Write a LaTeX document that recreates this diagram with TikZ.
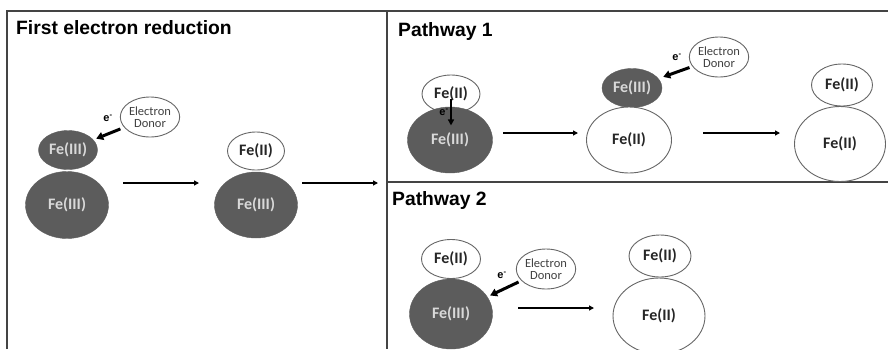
\documentclass[tikz,border=0pt]{standalone}
\usepackage{fontspec}
\setmainfont{Carlito}
\newfontfamily\headfont{Liberation Sans}
\usetikzlibrary{arrows.meta, shapes.geometric}
\definecolor{ironfill}{HTML}{5C5C5C}
\definecolor{ironline}{HTML}{666666}
\definecolor{frameline}{HTML}{444444}
\tikzset{
  fethree/.style = {ellipse, fill = ironfill, draw = ironfill, text = black!15, inner sep = 0pt, font = \bfseries\fontsize{16}{16}\selectfont},
  fetwo/.style = {ellipse, draw = ironline, line width = 0.9pt, fill = white, text = black!85, inner sep = 0pt, font = \bfseries\fontsize{16}{16}\selectfont},
  donor/.style = {ellipse, draw = ironline, line width = 0.9pt, fill = white, text = black!75, align = center, inner sep = 0pt, minimum width = 58pt, minimum height = 40pt, font = \fontsize{12.5}{11.5}\selectfont},
  smallion/.style = {minimum width = 59pt, minimum height = 39pt},
  bigion/.style = {minimum width = 83pt, minimum height = 67pt},
  rxn/.style = {-{Triangle[length = 5pt, width = 5pt]}, line width = 1.6pt},
  earrow/.style = {-{Triangle[length = 7pt, width = 8pt]}, line width = 3pt},
  elabel/.style = {font = \headfont\bfseries\fontsize{11}{10}\selectfont, inner sep = 0pt},
  heading/.style = {anchor = base west, inner sep = 0pt, font = \headfont\bfseries\fontsize{19.3}{20}\selectfont},
  frame/.style = {draw = frameline, line width = 2pt}
}
\begin{document}
\begin{tikzpicture}[x = 1pt, y = -1pt]
\useasboundingbox (0,0) rectangle (888,349);
\coordinate (tl) at (7,11);
\coordinate (bl) at (7,349);
\coordinate (tm) at (387,11);
\coordinate (bm) at (387,349);
\coordinate (tr) at (888,11);
\coordinate (mm) at (387,182);
\coordinate (mr) at (888,182);
\draw[frame] (bl) -- (tl) -- (tr);
\draw[frame] (tm) -- (bm);
\draw[frame] (mm) -- (mr);
\node[heading] (title0) at (16,34) {First electron reduction};
\node[heading] (title1) at (398,36) {Pathway 1};
\node[heading] (title2) at (392,205) {Pathway 2};
\node[fethree, smallion] (a1top) at (68,150) {Fe(III)};
\node[fethree, bigion] (a1bot) at (67,205) {Fe(III)};
\node[donor] (a1don) at (150,117) {Electron\\Donor};
\node[elabel] (a1e) at (108,118) {e\textsuperscript{-}};
\draw[earrow, shorten <= 4pt, shorten >= 3pt] (a1don) -- (a1top);
\node[fetwo, smallion, minimum width = 57pt, minimum height = 38pt] (a2top) at (256,151) {Fe(II)};
\node[fethree, bigion, minimum height = 66pt] (a2bot) at (256,205) {Fe(III)};
\coordinate (ar1s) at (123,183);
\coordinate (ar1e) at (199,183);
\coordinate (ar2s) at (302,183);
\coordinate (ar2e) at (378,183);
\draw[rxn] (ar1s) -- (ar1e);
\draw[rxn] (ar2s) -- (ar2e);
\node[fetwo, smallion, minimum width = 58pt, minimum height = 38pt, text depth = 3pt] (b1top) at (451,94) {Fe(II)};
\node[fethree, bigion, minimum width = 85pt, minimum height = 66pt] (b1bot) at (450,140) {Fe(III)};
\draw[earrow, line width = 2.2pt, -{Triangle[length = 6pt, width = 6pt]}] ([yshift = -5pt]b1top.center) -- ([yshift = -12pt]b1top.south);
\node[elabel] (b1e) at (444,112) {e\textsuperscript{-}};
\node[fethree, smallion, minimum width = 60pt, minimum height = 39pt] (b2top) at (632,88) {Fe(III)};
\node[fetwo, bigion, minimum width = 85pt, minimum height = 66pt] (b2bot) at (629,140) {Fe(II)};
\node[donor] (b2don) at (719,57) {Electron\\Donor};
\node[elabel] (b2e) at (677,57) {e\textsuperscript{-}};
\draw[earrow, shorten <= 3pt, shorten >= 5pt] (b2don) -- (b2top);
\node[fetwo, smallion, minimum width = 61pt, minimum height = 42pt] (b3top) at (842,85) {Fe(II)};
\node[fetwo, bigion, minimum width = 91pt, minimum height = 75pt] (b3bot) at (840,144) {Fe(II)};
\coordinate (br1s) at (503,133);
\coordinate (br1e) at (578,133);
\coordinate (br2s) at (703,133);
\coordinate (br2e) at (780,133);
\draw[rxn] (br1s) -- (br1e);
\draw[rxn] (br2s) -- (br2e);
\node[fetwo, smallion, minimum width = 59pt, minimum height = 39pt] (c1top) at (451,259) {Fe(II)};
\node[fethree, bigion, minimum width = 83pt, minimum height = 70pt] (c1bot) at (451,314) {Fe(III)};
\node[donor] (c1don) at (546,269) {Electron\\Donor};
\node[elabel] (c1e) at (502,275) {e\textsuperscript{-}};
\draw[earrow, shorten <= 3pt, shorten >= 3pt] (c1don) -- (c1bot);
\node[fetwo, smallion, minimum width = 62pt, minimum height = 42pt] (c2top) at (660,256) {Fe(II)};
\node[fetwo, bigion, minimum width = 92pt, minimum height = 76pt] (c2bot) at (659,316) {Fe(II)};
\coordinate (cr1s) at (518,308);
\coordinate (cr1e) at (594,308);
\draw[rxn] (cr1s) -- (cr1e);
\end{tikzpicture}
\end{document}
